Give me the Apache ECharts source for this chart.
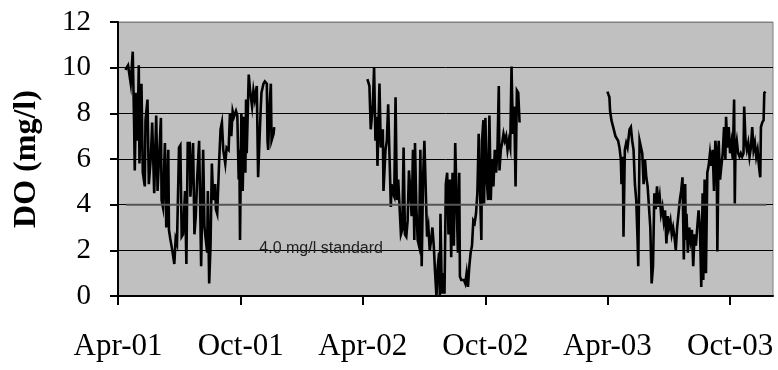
<!DOCTYPE html>
<html><head><meta charset="utf-8">
<script src="https://cdn.jsdelivr.net/npm/echarts@6/dist/echarts.min.js"></script>
<style>html,body{margin:0;padding:0;background:#fff}#c{width:778px;height:370px}</style>
</head><body><div id="c"></div>
<script>
// Season start dates (day offsets below are days after these dates)
const seasonStarts = ['2001-04-01', '2002-04-01', '2003-04-01'];

const days2001 = [11,15,19,22,24,25,27,29,31,32,35,37,40,41,44,46,49,51,54,57,59,64,65,67,70,72,75,76,78,81,84,86,88,91,93,95,97,100,102,104,107,108,110,112,114,116,118,121,124,127,129,133,134,136,138,140,142,145,146,148,151,153,155,157,160,162,165,167,169,171,173,176,178,180,181,182,184,186,188,190,191,192,195,197,200,202,204,207,209,211,213,214,217,219,222,223,224,226,228,229,232,233];
const do2001 = [9.9,10.1,9.3,10.7,7.6,5.5,8.9,6.8,10.1,5.8,9.3,5.4,4.8,7.7,8.6,4.9,6.1,7.6,4.5,7.9,4.6,7.8,4.2,3.9,6.7,3.0,6.4,2.9,2.5,2.0,1.4,2.5,2.3,6.5,6.6,2.6,2.7,4.6,1.4,6.7,6.7,4.35,5.5,6.7,2.7,3.5,5.1,6.8,1.3,6.4,3.0,1.9,4.6,0.55,2.2,5.8,4.2,4.9,3.8,3.6,6.0,7.3,7.6,6.4,5.8,6.5,6.4,8.0,7.0,8.1,7.85,8.1,7.9,5.1,6.4,2.45,8.0,4.6,7.85,5.4,8.6,6.25,9.7,9.0,8.3,9.0,8.6,9.2,5.2,6.8,8.3,8.9,9.3,9.4,9.3,6.8,6.4,8.3,9.3,6.8,7.1,7.4];

const days2002 = [7,10,12,15,17,19,21,22,25,27,30,31,34,36,38,40,42,43,45,47,49,51,53,55,57,59,61,63,65,67,69,71,73,75,77,78,80,82,84,86,88,90,92,94,96,98,100,102,104,106,108,110,112,114,115,116,118,120,122,124,126,128,130,132,134,136,138,140,142,144,145,147,149,151,153,155,157,159,161,163,165,167,169,171,172,173,175,177,178,180,181,183,185,187,189,191,193,195,197,199,201,203,204,206,208,210,212,214,216,218,220,222,224,226,228,230,232,234];
const do2002 = [9.5,9.2,7.3,8.3,10.0,6.8,7.85,5.7,9.3,6.5,7.3,4.6,6.4,6.8,8.4,6.1,3.9,4.9,4.5,4.35,8.7,4.2,5.1,3.9,2.7,2.9,6.5,2.7,2.6,3.3,5.5,4.6,3.5,6.4,2.45,6.7,3.9,2.45,2.2,6.4,1.3,5.1,6.8,6.8,2.6,3.0,2.0,2.45,3.0,2.2,1.0,0.0,1.3,1.9,0.0,3.6,0.1,1.0,0.1,4.9,5.4,2.7,5.1,1.7,5.4,2.2,6.7,6.7,1.9,5.4,0.85,0.7,0.77,0.7,0.55,1.0,0.4,1.3,1.9,2.2,3.3,3.2,3.6,4.5,5.7,7.1,4.6,2.45,6.8,7.7,4.05,7.8,5.1,4.2,7.9,4.2,6.0,4.8,6.4,5.4,6.4,9.2,5.5,6.4,6.7,7.1,6.8,7.0,6.4,6.8,6.5,10.05,7.1,8.3,4.8,9.0,8.9,7.6];

const days2003 = [0,3,4,6,9,12,14,16,18,20,21,23,24,26,28,30,33,35,37,39,41,43,45,46,48,50,52,54,56,58,60,62,64,66,68,70,72,74,76,78,80,82,84,86,88,90,92,94,96,98,100,102,104,106,108,110,112,114,116,117,118,120,122,124,126,128,130,132,134,136,138,140,142,143,145,147,149,151,153,155,157,159,161,163,164,166,168,170,172,174,176,177,179,181,183,185,187,189,190,191,193,195,197,199,201,203,204,206,208,210,212,214,216,218,220,222,224,226,228,229,231,233,234,236];
const do2003 = [8.95,8.7,8.1,7.7,7.35,7.0,7.05,6.8,6.5,6.0,4.9,6.1,2.6,6.4,6.7,6.5,7.3,7.4,6.8,6.4,4.9,4.2,2.45,1.3,6.8,6.8,6.25,4.9,6.0,5.2,4.8,3.9,3.0,0.55,1.3,4.5,3.8,4.8,3.9,4.35,3.6,3.9,3.3,3.75,2.3,3.5,3.0,3.3,2.7,3.0,2.6,2.0,3.0,3.6,4.2,4.6,5.2,1.6,4.9,2.45,3.6,1.9,3.0,2.45,2.9,1.3,2.7,2.2,3.0,3.75,3.0,0.4,4.5,0.7,5.1,1.0,5.4,5.7,6.25,5.7,6.4,4.6,6.8,6.25,1.95,6.8,5.1,5.7,6.25,7.4,6.0,7.85,6.5,7.4,6.25,6.7,6.0,8.6,4.05,6.4,6.8,6.25,6.1,6.25,6.1,6.25,8.3,6.8,6.4,6.7,6.1,6.5,7.4,6.4,6.7,6.1,6.4,5.7,5.2,7.4,7.6,7.7,8.9,8.95];

const tickDates = ['2001-04-01','2001-10-01','2002-04-01','2002-10-01','2003-04-01','2003-10-01'];
const tickLabels = ['Apr-01','Oct-01','Apr-02','Oct-02','Apr-03','Oct-03'];
const axisStart = '2001-04-01';
const axisEnd = '2003-12-04';

const standardValue = 4.0;
const standardDates = ['2001-04-13','2003-11-24'];
const standardText = '4.0 mg/l standard';
const standardTextAt = ['2002-01-29', 2.06];

const yTitle = 'DO (mg/l)';

function ts(s){const p=s.split('-').map(Number);return Date.UTC(p[0],p[1]-1,p[2]);}
const DAY = 86400000;
function pairs(start, days, vals){const t0=ts(start);return days.map((d,i)=>[t0+d*DAY, vals[i]]);}

const seasons = [
  pairs(seasonStarts[0], days2001, do2001),
  pairs(seasonStarts[1], days2002, do2002),
  pairs(seasonStarts[2], days2003, do2003)
];
const tickTs = tickDates.map(ts);

const chart = echarts.init(document.getElementById('c'), null, {renderer:'canvas'});
const lineSeries = seasons.map(data => ({
  type:'line', data, showSymbol:false, symbol:'none', animation:false,
  lineStyle:{color:'#000', width:2.6, join:'miter'}, z:3
}));
lineSeries.push({
  type:'line', data: standardDates.map(d=>[ts(d), standardValue]),
  showSymbol:false, symbol:'none', animation:false,
  lineStyle:{color:'#555555', width:2}, z:4,
  markPoint:{
    silent:true, animation:false, symbol:'circle', symbolSize:0,
    data:[{coord:[ts(standardTextAt[0]), standardTextAt[1]]}],
    label:{show:true, position:'inside', formatter: standardText, color:'#222',
      fontFamily:'"Liberation Sans", Arial, sans-serif', fontSize:16}
  }
});

chart.setOption({
  animation:false,
  grid:{left:118, right:5, top:22, bottom:74, show:true, backgroundColor:'#c0c0c0', borderColor:'#808080', borderWidth:1},
  xAxis:{
    type:'value', min:ts(axisStart), max:ts(axisEnd),
    axisLine:{show:true, onZero:false, lineStyle:{color:'#000', width:2}},
    axisTick:{show:true, customValues:tickTs, length:9, inside:false, lineStyle:{color:'#000', width:2}},
    axisLabel:{show:true, customValues:tickTs, margin:35, color:'#000',
      fontFamily:'"Liberation Serif", "Times New Roman", serif', fontSize:31,
      formatter:function(v){for(let i=0;i<tickTs.length;i++){if(Math.abs(tickTs[i]-v)<DAY)return tickLabels[i];}return '';}},
    splitLine:{show:false}, minorTick:{show:false}
  },
  yAxis:{
    type:'value', min:0, max:12, interval:2,
    name: yTitle, nameLocation:'middle', nameGap:75,
    nameTextStyle:{fontFamily:'"Liberation Serif", "Times New Roman", serif', fontWeight:'bold', fontSize:32, color:'#000'},
    axisLine:{show:true, lineStyle:{color:'#000', width:2}},
    axisTick:{show:true, length:8, lineStyle:{color:'#000', width:2}},
    axisLabel:{margin:27, color:'#000', fontFamily:'"Liberation Serif", "Times New Roman", serif', fontSize:29},
    splitLine:{show:true, lineStyle:{color:['#000','#000','#000','#000','#000','#000','#808080'], width:1}}
  },
  series: lineSeries
});
</script></body></html>
